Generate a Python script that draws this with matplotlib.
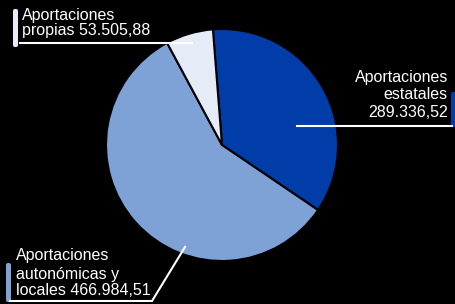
import matplotlib
matplotlib.use('Agg')
import matplotlib.pyplot as plt
from matplotlib.patches import FancyBboxPatch

# ==================== 数据 ====================
categories = ['Aportaciones estatales', 'Aportaciones autonómicas y locales', 'Aportaciones propias']
values = [289336.52, 466984.51, 53505.88]
colors = ['#003DA8', '#7FA2D6', '#E6ECF7']

W, H = 455, 304
fig = plt.figure(figsize=(W / 100, H / 100), dpi=100, facecolor='black')
ax = fig.add_axes([0, 0, 1, 1])
ax.set_facecolor('black')

def Y(y):
    # 图像像素坐标 -> 数据坐标
    return H - y

ax.pie(values, colors=colors, startangle=94.5, counterclock=False,
       center=(222, Y(145)), radius=116, frame=True,
       wedgeprops=dict(edgecolor='black', linewidth=1.5))
ax.set_xlim(0, W)
ax.set_ylim(0, H)
ax.set_aspect('equal')
ax.axis('off')

font = dict(family=['Liberation Sans', 'DejaVu Sans'],
            fontsize=11.5, color='white', va='baseline')

# 引线
ax.plot([20, 192], [Y(43), Y(43)], color='white', lw=1.5)
ax.plot([297, 452], [Y(126), Y(126)], color='white', lw=1.5)
ax.plot([10, 152, 185], [Y(301), Y(301), Y(247)], color='white', lw=1.5)

# 色条
def bar(x0, y0, x1, y1, c):
    ax.add_patch(FancyBboxPatch((x0, Y(y1)), x1 - x0, y1 - y0,
                                boxstyle='round,pad=0,rounding_size=2',
                                facecolor=c, edgecolor='none'))

bar(13, 9, 18, 47, colors[2])
bar(451, 92, 458, 127, colors[0])
bar(6, 263, 11, 302, colors[1])

# 文字
ax.text(22, Y(20), 'Aportaciones', ha='left', **font)
ax.text(22, Y(35), 'propias 53.505,88', ha='left', **font)

ax.text(448, Y(82), 'Aportaciones', ha='right', **font)
ax.text(448, Y(99), 'estatales', ha='right', **font)
ax.text(448, Y(117), '289.336,52', ha='right', **font)

ax.text(16, Y(260), 'Aportaciones', ha='left', **font)
ax.text(16, Y(279), 'autonómicas y', ha='left', **font)
ax.text(16, Y(295), 'locales 466.984,51', ha='left', **font)

fig.savefig('out.png', dpi=100, facecolor='black')
